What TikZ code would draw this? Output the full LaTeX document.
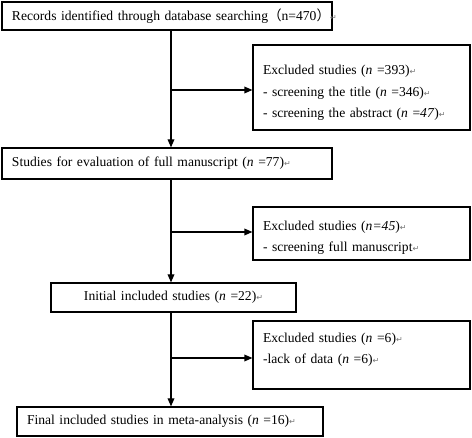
\documentclass[tikz,border=0pt]{standalone}
\usepackage{fontspec}
\setmainfont{Liberation Serif}
\newfontfamily\cjk{Noto Sans CJK SC}
\newfontfamily\dejavu{DejaVu Sans}
\usetikzlibrary{arrows.meta}
\usetikzlibrary{positioning}

\begin{document}
\begin{tikzpicture}[x=0.75pt,y=-0.75pt]
% définition des paramètres
\tikzstyle boiteetape=[draw=black,line width=0.9pt,rectangle,inner xsep=7.5pt,inner ysep=0pt,font=\fontsize{10.2}{12}\selectfont]
\tikzstyle boiteexclu=[boiteetape,text width=147.75pt,align=left,font=\fontsize{10.2}{16}\selectfont]
\tikzstyle fleche=[line width=0.9pt,-{Triangle[length=6pt,width=5pt]}]
\newcommand{\retour}{{\dejavu\fontsize{6}{6}\selectfont\color{black!55}↵}}
\newcommand{\nn}{\textit{n}}
% le cadre
\useasboundingbox (0,0) rectangle (472,438);
% les étapes
\node[boiteetape,text width=232.5pt,minimum height=21pt,align=left] (recherche) at (167,16)
  {\mbox{Records identified through database searching{\cjk （}n=470{\cjk ）}\retour}};
\node[boiteetape,text width=232.5pt,minimum height=23.25pt,align=left] (evaluation) at (167,163.5)
  {Studies\ for evaluation of full manuscript (\nn\ =77)\retour};
\node[boiteetape,text width=168.75pt,minimum height=21.75pt,align=center] (initiales) at (173.5,297.5)
  {Initial included studies (\nn\ =22)\retour};
\node[boiteetape,text width=214.5pt,minimum height=21.75pt,align=left] (finales) at (170,421.5)
  {Final included studies in meta-analysis (\nn\ =16)\retour};
% les exclusions
\node[boiteexclu,minimum height=63.75pt] (exclu1) at (361.5,87.5)
  {\rule{0pt}{15pt}Excluded studies (\nn\ =393)\retour\\
   - screening the title (\nn\ =346)\retour\\
   - screening the abstract (\nn\ =\textit{47})\retour};
\node[boiteexclu,minimum height=39.75pt] (exclu2) at (361.5,233.5)
  {\rule{0pt}{13pt}Excluded studies (\textit{n=45})\retour\\
   - screening full manuscript\retour};
\node[boiteexclu,minimum height=51pt] (exclu3) at (361.5,355)
  {Excluded studies (\nn\ =6)\retour\\
   -lack of data (\nn\ =6)\retour\\[-6pt]\mbox{}};
% les embranchements
\coordinate (tronc1) at (171,90);
\coordinate (tronc2) at (171,232);
\coordinate (tronc3) at (171,358);
% les flèches
\draw[fleche] (recherche.south -| tronc1) -- (evaluation.north -| tronc1);
\draw[fleche] (tronc1) -- (exclu1.west |- tronc1);
\draw[fleche] (evaluation.south -| tronc2) -- (initiales.north -| tronc2);
\draw[fleche] (tronc2) -- (exclu2.west |- tronc2);
\draw[fleche] (initiales.south -| tronc3) -- (finales.north -| tronc3);
\draw[fleche] (tronc3) -- (exclu3.west |- tronc3);
\end{tikzpicture}
\end{document}
